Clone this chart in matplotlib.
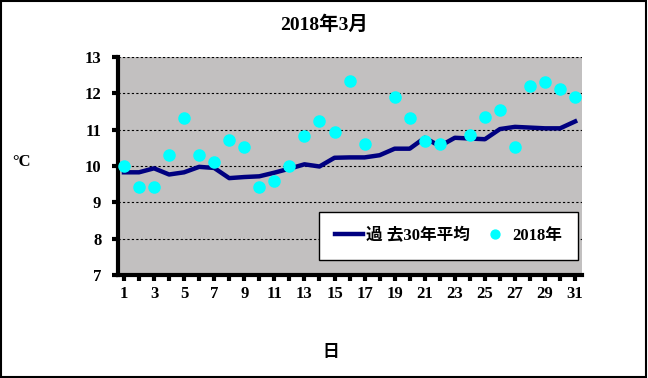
import numpy as np
import matplotlib.pyplot as plt

# Data
days = np.arange(1, 32)
avg_30yr = [9.83, 9.83, 9.94, 9.77, 9.83, 9.98, 9.95, 9.67, 9.70, 9.72,
            9.82, 9.93, 10.05, 9.99, 10.23, 10.24, 10.24, 10.30, 10.48, 10.48,
            10.78, 10.55, 10.78, 10.76, 10.74, 11.02, 11.08, 11.06, 11.04, 11.04,
            11.23]
temp_2018 = [10.0, 9.42, 9.42, 10.3, 11.33, 10.3, 10.11, 10.72, 10.53, 9.42,
             9.6, 10.0, 10.83, 11.23, 10.93, 12.33, 10.61, np.nan, 11.91, 11.33,
             10.7, 10.61, np.nan, 10.85, 11.34, 11.54, 10.53, 12.21, 12.31, 12.12,
             11.91]
y_ticks = [7, 8, 9, 10, 11, 12, 13]
x_labels = [str(d) if d % 2 == 1 else '' for d in days]

font = ['Liberation Serif', 'Noto Sans CJK JP']
plt.rcParams['font.family'] = font
plt.rcParams['font.weight'] = 'bold'

fig = plt.figure(figsize=(6.48, 3.78), dpi=100)
ax = fig.add_axes([0.182, 0.272, 0.716, 0.577])
ax.set_facecolor('#c2c0c0')

ax.plot(days, avg_30yr, color='#000080', lw=3.2, label='過 去30年平均', zorder=3)
ax.plot(days, temp_2018, 'o', color='#00ffff', ms=8, label='2018年', zorder=4)

ax.set_xlim(0.6, 31.45)
ax.set_ylim(7, 13)
ax.set_yticks(y_ticks)
ax.set_xticks(days)
ax.set_xticklabels(x_labels)
ax.tick_params(axis='both', labelsize=12, width=3, length=4, direction='out')
ax.tick_params(axis='y', pad=8)
for lbl in ax.get_xticklabels() + ax.get_yticklabels():
    lbl.set_fontweight('bold')

ax.grid(axis='y', color='black', linestyle=(0, (2, 2)), lw=0.8)
ax.spines['top'].set_visible(False)
ax.spines['right'].set_visible(False)
ax.spines['left'].set_linewidth(3)
ax.spines['bottom'].set_linewidth(3)

leg = ax.legend(loc='lower right', ncol=2, fontsize=12, frameon=True,
                fancybox=False, edgecolor='black', framealpha=1,
                borderpad=0.95, handlelength=1.7, handletextpad=0.2,
                columnspacing=0.6, markerscale=0.8, borderaxespad=0,
                bbox_to_anchor=(0.991, 0.069))
leg.get_frame().set_linewidth(1)
for t in leg.get_texts():
    t.set_fontweight('bold')

fig.text(0.5, 0.935, '2018年3月', ha='center', va='center', fontsize=14,
         fontweight='bold')
fig.text(0.033, 0.572, '°C', ha='center', va='center', fontsize=12,
         fontweight='bold')
fig.text(0.51, 0.066, '日', ha='center', va='center', fontsize=12)

fig.patches.append(plt.Rectangle((0.002, 0.003), 0.995, 0.994, fill=False,
                                 edgecolor='black', lw=1.5,
                                 transform=fig.transFigure))

fig.savefig('out.png', dpi=100)
